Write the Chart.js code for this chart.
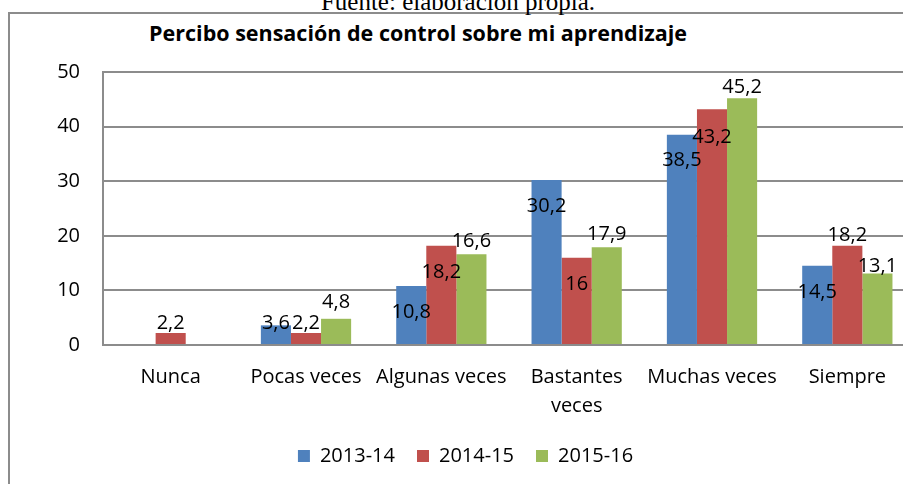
<!DOCTYPE html>
<html>
<head>
<meta charset="utf-8">
<script src="https://cdn.jsdelivr.net/npm/chart.js@4.4.1/dist/chart.umd.min.js"></script>
<style>
    body { margin: 0; width: 903px; height: 484px; overflow: hidden; background: #fff; position: relative; }
    #frame { position: absolute; left: 8px; top: 12px; width: 1000px; height: 600px; border: 2px solid #8c8c8c; }
    #source { position: absolute; left: 0; width: 916px; top: -10px; text-align: center; font: 25px/24px "Liberation Serif", serif; color: #000; }
    #title { position: absolute; left: 0; width: 836px; top: 19px; text-align: center; font: bold 21.5px/28px "Open Sans", sans-serif; color: #000; }
    #wrap { position: absolute; left: 0; top: 0; width: 944px; height: 484px; }
</style>
</head>
<body>
<div id="frame"></div>
<div id="source">Fuente: elaboración propia.</div>
<div id="title">Percibo sensación de control sobre mi aprendizaje</div>
<div id="wrap"><canvas id="controlChart"></canvas></div>
<script>
// data
const categories = ['Nunca', 'Pocas veces', 'Algunas veces', 'Bastantes veces', 'Muchas veces', 'Siempre'];
const seasons = ['2013-14', '2014-15', '2015-16'];
const values1314 = [null, 3.6, 10.8, 30.2, 38.5, 14.5];
const values1415 = [2.2, 2.2, 18.2, 16, 43.2, 18.2];
const values1516 = [null, 4.8, 16.6, 17.9, 45.2, 13.1];
const yTicks = [0, 10, 20, 30, 40, 50];

// where each value label sits, px from the bar top (style, not data)
const labelOffsets = [
    [0, -2, 26, 26, 26, 26],
    [-10, -10, 27, 27, 28, -10],
    [0, -16, -13, -13, -11, -7]
];

const colors = ['#4f81bd', '#c0504d', '#9bbb59'];
const gridColor = '#8c8c8c';
const font = { family: '"Open Sans", sans-serif', size: 20 };

// Excel style labels with a decimal comma
const barLabels = {
    id: 'barLabels',
    afterDatasetsDraw(chart) {
        const ctx = chart.ctx;
        ctx.save();
        ctx.font = font.size + 'px ' + font.family;
        ctx.fillStyle = '#000';
        ctx.textAlign = 'center';
        ctx.textBaseline = 'middle';
        chart.data.datasets.forEach(function(ds, di) {
            chart.getDatasetMeta(di).data.forEach(function(bar, i) {
                const v = ds.data[i];
                if (v == null) return;
                ctx.fillText(String(v).replace('.', ','), bar.x, bar.y + labelOffsets[di][i]);
            });
        });
        ctx.restore();
    }
};

const ctx = document.getElementById('controlChart').getContext('2d');
const controlChart = new Chart(ctx, {
    type: 'bar',
    data: {
        labels: categories,
        datasets: [values1314, values1415, values1516].map(function(vals, i) {
            return {
                label: seasons[i],
                data: vals,
                backgroundColor: colors[i],
                barPercentage: 1,
                categoryPercentage: 0.667
            };
        })
    },
    options: {
        responsive: true,
        maintainAspectRatio: false,
        animation: false,
        layout: { padding: { left: 16, right: 29, top: 72, bottom: 8 } },
        plugins: {
            tooltip: { enabled: false },
            legend: {
                position: 'bottom',
                labels: { boxWidth: 12, boxHeight: 12, padding: 22, color: '#000', font: font }
            }
        },
        scales: {
            x: {
                grid: { display: false },
                border: { color: gridColor, width: 2 },
                ticks: {
                    color: '#000',
                    font: { family: font.family, size: 20, lineHeight: 1.45 },
                    padding: 10,
                    autoSkip: false,
                    maxRotation: 0,
                    minRotation: 0,
                    callback: function(v, i) {
                        const name = categories[i];
                        return name.length > 13 ? name.split(' ') : name;
                    }
                },
                afterFit: function(s) { s.height = 79; }
            },
            y: {
                min: 0,
                max: 50,
                grid: { color: gridColor, lineWidth: 2, drawTicks: false },
                border: { color: gridColor, width: 2 },
                ticks: { color: '#000', font: font, padding: 23, stepSize: 10 },
                afterBuildTicks: function(s) { s.ticks = yTicks.map(function(v) { return { value: v }; }); },
                afterFit: function(s) { s.width = 87; }
            }
        }
    },
    plugins: [barLabels]
});
</script>
</body>
</html>
